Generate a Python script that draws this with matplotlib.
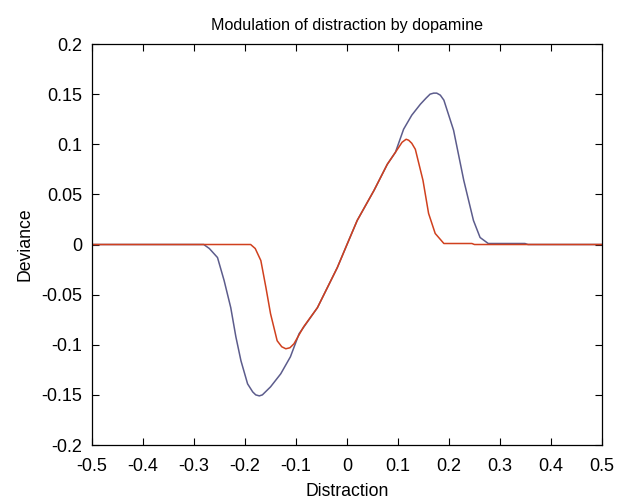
import matplotlib
matplotlib.use("Agg")
import matplotlib.pyplot as plt

plt.rcParams["font.family"] = ["Liberation Sans", "DejaVu Sans"]

# deviance curves
x_blue = [-0.5, -0.281, -0.270, -0.254, -0.241, -0.228, -0.218, -0.208, -0.195,
          -0.185, -0.179, -0.172, -0.166, -0.150, -0.130, -0.111, -0.094, -0.058,
          -0.019, 0.0, 0.020, 0.053, 0.079, 0.095, 0.111, 0.127, 0.144, 0.155,
          0.163, 0.170, 0.176, 0.183, 0.190, 0.209, 0.229, 0.248, 0.261, 0.277,
          0.349, 0.355, 0.5]
y_blue = [0.0, 0.0, -0.004, -0.013, -0.036, -0.063, -0.092, -0.116, -0.139,
          -0.147, -0.150, -0.151, -0.150, -0.142, -0.129, -0.112, -0.089, -0.063,
          -0.023, 0.0, 0.024, 0.054, 0.080, 0.092, 0.115, 0.129, 0.140, 0.146,
          0.150, 0.151, 0.151, 0.149, 0.144, 0.114, 0.064, 0.024, 0.007, 0.001,
          0.001, 0.0, 0.0]

x_red = [-0.5, -0.189, -0.180, -0.169, -0.159, -0.150, -0.137, -0.128, -0.120,
         -0.112, -0.104, -0.085, -0.058, -0.019, 0.0, 0.020, 0.053, 0.079,
         0.095, 0.108, 0.116, 0.121, 0.127, 0.134, 0.149, 0.160, 0.173, 0.190,
         0.245, 0.250, 0.5]
y_red = [0.0, 0.0, -0.004, -0.016, -0.043, -0.069, -0.096, -0.102, -0.104,
         -0.103, -0.099, -0.082, -0.063, -0.023, 0.0, 0.024, 0.054, 0.080,
         0.092, 0.102, 0.105, 0.104, 0.101, 0.095, 0.064, 0.031, 0.011, 0.001,
         0.001, 0.0, 0.0]

x_ticks = [-0.5, -0.4, -0.3, -0.2, -0.1, 0, 0.1, 0.2, 0.3, 0.4, 0.5]
x_labels = ["-0.5", "-0.4", "-0.3", "-0.2", "-0.1", "0", "0.1", "0.2", "0.3", "0.4", "0.5"]
y_ticks = [-0.2, -0.15, -0.1, -0.05, 0, 0.05, 0.1, 0.15, 0.2]
y_labels = ["-0.2", "-0.15", "-0.1", "-0.05", "0", "0.05", "0.1", "0.15", "0.2"]

fig = plt.figure(figsize=(6.18, 5.03), dpi=100)
ax = fig.add_axes([0.149, 0.1153, 0.825, 0.7972])

ax.plot(x_blue, y_blue, color="#5c5c8c", lw=1.1)
ax.plot(x_red, y_red, color="#d0401e", lw=1.1)

ax.set_xlim(-0.5, 0.5)
ax.set_ylim(-0.2, 0.2)
ax.set_xticks(x_ticks)
ax.set_xticklabels(x_labels)
ax.set_yticks(y_ticks)
ax.set_yticklabels(y_labels)
ax.tick_params(direction="in", top=True, right=True, length=5, width=0.8,
               labelsize=13)
ax.tick_params(axis="x", pad=9)
ax.tick_params(axis="y", pad=7)
for s in ax.spines.values():
    s.set_linewidth(0.9)

ax.set_title("Modulation of distraction by dopamine", fontsize=11.6, pad=10)
ax.set_xlabel("Distraction", fontsize=12.7, labelpad=6)
ax.set_ylabel("Deviance", fontsize=12.7, labelpad=6)

fig.savefig("out.png", dpi=100)
